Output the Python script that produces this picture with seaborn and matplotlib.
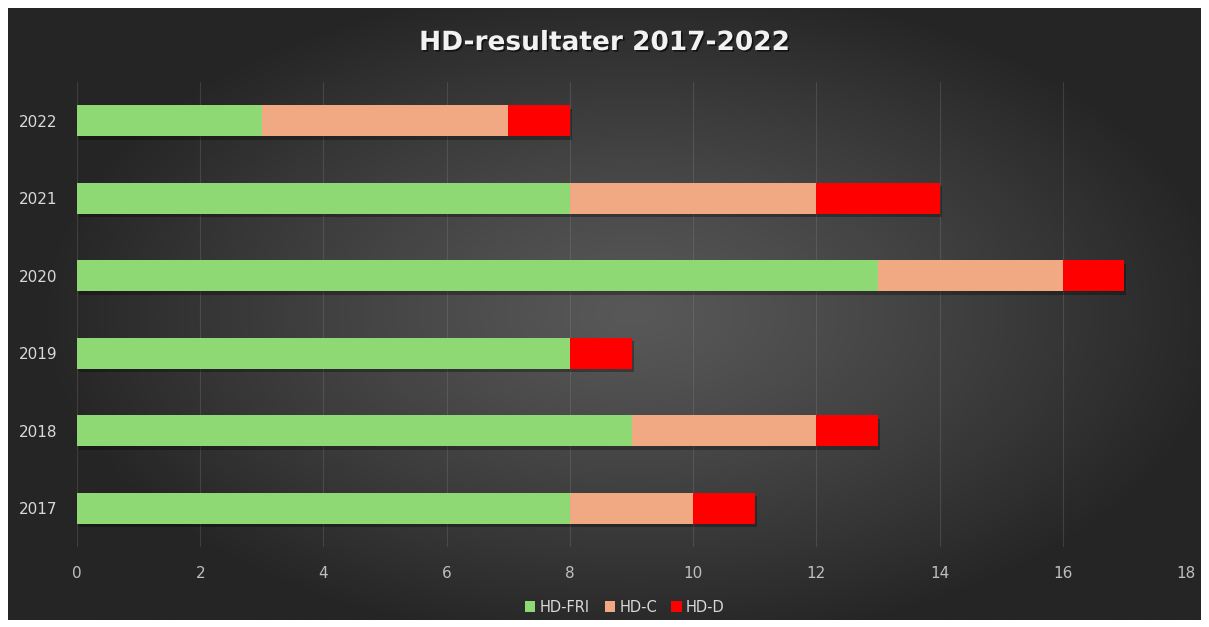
import numpy as np
import pandas as pd
import matplotlib
matplotlib.use("Agg")
import matplotlib.pyplot as plt
import matplotlib.patheffects as pe
from matplotlib.patches import Patch
import seaborn as sns

years = ["2022", "2021", "2020", "2019", "2018", "2017"]
hd_fri = [3, 8, 13, 8, 9, 8]
hd_c = [4, 4, 3, 0, 3, 2]
hd_d = [1, 2, 1, 1, 1, 1]
series_names = ["HD-FRI", "HD-C", "HD-D"]
colors = ["#8ED973", "#F1A983", "#FF0000"]
x_ticks = [0, 2, 4, 6, 8, 10, 12, 14, 16, 18]
title = "HD-resultater 2017-2022"

sns.set_theme(style="white")
plt.rcParams["font.family"] = ["DejaVu Sans"]

W, H = 1209, 627
fig = plt.figure(figsize=(W / 100, H / 100), dpi=100, facecolor="white")

# background panel with radial gradient
bx0, by0, bx1, by1 = 8, 8, 1201, 620
bg = fig.add_axes([bx0 / W, 1 - by1 / H, (bx1 - bx0) / W, (by1 - by0) / H])
nx, ny = 600, 310
xx, yy = np.meshgrid(np.linspace(-1, 1, nx), np.linspace(-1, 1, ny))
r = np.sqrt(((xx - 0.05) / 1.0) ** 2 + (yy / 1.1) ** 2)
r = np.clip(r, 0, 1)
inner = np.array([0x58, 0x58, 0x58]) / 255
outer = np.array([0x25, 0x25, 0x25]) / 255
k = r[..., None] ** 1.2
img = inner[None, None, :] * (1 - k) + outer[None, None, :] * k
bg.imshow(img, aspect="auto", extent=[0, 1, 0, 1])
bg.set_axis_off()

df = pd.DataFrame({"year": years, "HD-FRI": hd_fri, "HD-C": hd_c, "HD-D": hd_d})
df["c1"] = df["HD-FRI"]
df["c2"] = df["HD-FRI"] + df["HD-C"]
df["c3"] = df["c2"] + df["HD-D"]

ax = fig.add_axes([77 / W, 1 - 547 / H, (1186 - 77) / W, (547 - 82) / H])
ax.patch.set_alpha(0)
for col, c in zip(["c3", "c2", "c1"], colors[::-1]):
    sns.barplot(data=df, y="year", x=col, order=years, orient="h", color=c,
                width=0.4, ax=ax, saturation=1, linewidth=0)
shadow = [pe.SimplePatchShadow(offset=(1.5, -2.5), shadow_rgbFace="black", alpha=0.3), pe.Normal()]
for p in ax.patches[:len(years)]:
    p.set_path_effects(shadow)

ax.set_xlim(0, 18)
ax.set_ylim(5.5, -0.5)
ax.set_xticks(x_ticks)
ax.set_xticklabels([str(t) for t in x_ticks], color="#BFBFBF", fontsize=11)
ax.tick_params(axis="x", length=0, pad=14)
ax.tick_params(axis="y", length=0, pad=14)
for lab in ax.get_yticklabels():
    lab.set_color("#D9D9D9")
    lab.set_fontsize(11)
ax.set_xlabel("")
ax.set_ylabel("")
for s in ax.spines.values():
    s.set_visible(False)
ax.grid(axis="x", color="#9a9a9a", alpha=0.22, linewidth=0.8)
ax.set_axisbelow(True)

fig.text(0.5, 1 - 43 / H, title, ha="center", va="center", fontsize=19, fontweight="bold",
         color="#F2F2F2",
         path_effects=[pe.withSimplePatchShadow(offset=(1.2, -1.2), shadow_rgbFace="black", alpha=0.6)])

handles = [Patch(facecolor=c, edgecolor="none", label=n) for c, n in zip(colors, series_names)]
leg = fig.legend(handles=handles, loc="center", bbox_to_anchor=(0.517, 1 - 607 / H), ncol=3,
                 frameon=False, fontsize=10.5, handlelength=0.7, handleheight=0.7,
                 handletextpad=0.3, columnspacing=1.0)
for t in leg.get_texts():
    t.set_color("#D9D9D9")

fig.savefig("out.png", dpi=100, facecolor="white")
